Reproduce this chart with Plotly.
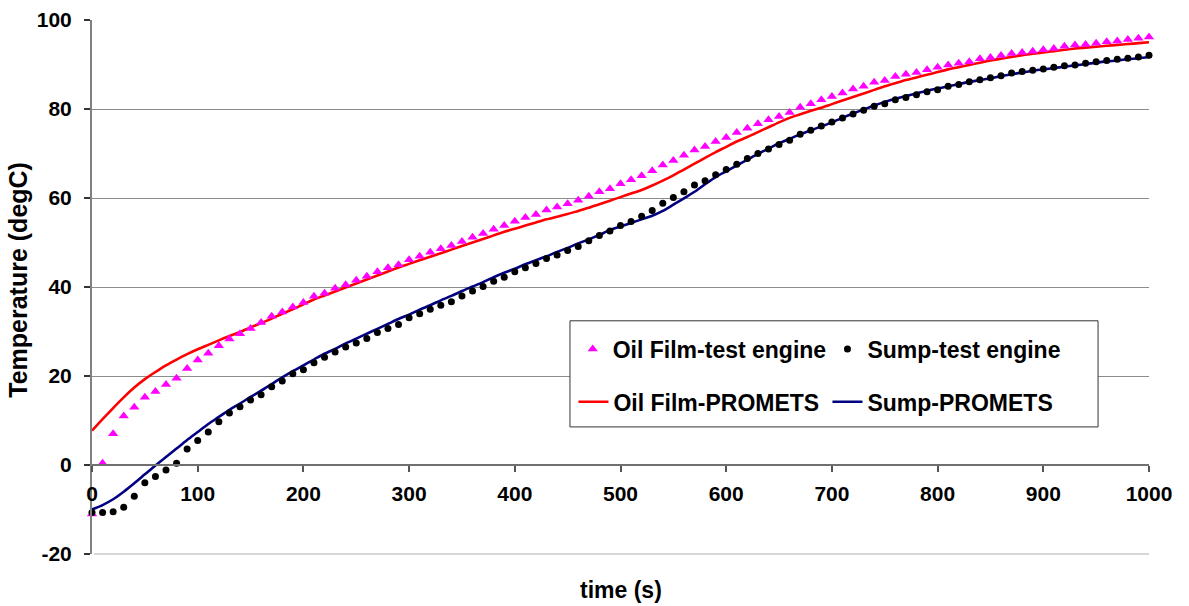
import plotly.graph_objects as go

# ---------------- data ----------------
time_s = list(range(0, 1001, 10))

oil_film_test = [
    -11.0, 0.4, 7.0, 11.0, 13.0, 15.2, 16.5, 18.1, 19.5, 21.7,
    23.6, 25.1, 26.8, 28.3, 29.5, 30.7, 32.0, 33.4, 34.4, 35.5,
    36.5, 37.9, 38.6, 39.7, 40.5, 41.5, 42.4, 43.4, 44.3, 45.0,
    46.1, 46.9, 47.8, 48.6, 49.3, 50.2, 51.2, 52.0, 53.0, 53.8,
    54.8, 55.6, 56.3, 57.3, 58.0, 58.7, 59.5, 60.4, 61.4, 62.1,
    63.2, 64.1, 65.0, 66.1, 67.4, 68.4, 69.6, 70.8, 71.6, 72.7,
    73.6, 74.7, 75.7, 76.7, 77.6, 78.3, 79.2, 80.4, 81.2, 82.1,
    82.8, 83.6, 84.5, 85.1, 86.0, 86.4, 87.3, 87.8, 88.2, 88.8,
    89.4, 89.9, 90.3, 90.6, 91.3, 91.6, 92.0, 92.5, 92.7, 93.0,
    93.3, 93.6, 94.1, 94.4, 94.5, 94.8, 95.1, 95.3, 95.6, 95.9,
    96.2,
]

sump_test = [
    -10.7, -10.7, -10.5, -9.5, -7.0, -4.0, -2.6, -1.1, 0.4, 3.6,
    5.5, 7.4, 9.7, 11.7, 13.1, 14.6, 15.8, 17.6, 18.9, 20.5,
    21.4, 23.0, 24.2, 25.4, 26.5, 27.4, 28.4, 29.8, 30.7, 31.6,
    33.1, 34.0, 35.0, 35.9, 36.7, 38.0, 39.1, 40.1, 41.3, 42.2,
    43.4, 44.3, 45.3, 46.4, 47.2, 48.2, 49.1, 50.4, 51.6, 52.6,
    53.8, 54.7, 55.9, 57.2, 58.8, 60.1, 61.4, 62.9, 63.9, 65.2,
    66.4, 67.6, 68.9, 70.0, 71.0, 72.0, 73.0, 74.3, 75.2, 76.2,
    77.1, 78.0, 78.9, 79.7, 80.6, 81.2, 82.1, 82.6, 83.2, 83.9,
    84.3, 85.1, 85.5, 86.1, 86.6, 87.0, 87.5, 88.1, 88.4, 88.7,
    89.0, 89.4, 89.7, 89.9, 90.3, 90.6, 90.9, 91.2, 91.4, 91.7,
    92.1,
]

oil_film_promets = [
    7.7, 10.3, 12.8, 15.2, 17.4, 19.3, 20.9, 22.4, 23.7, 24.9,
    26.0, 27.0, 28.0, 29.0, 29.9, 30.9, 31.9, 32.9, 34.0, 35.0,
    36.1, 37.2, 38.1, 39.0, 39.9, 40.8, 41.7, 42.6, 43.5, 44.4,
    45.2, 46.0, 46.8, 47.6, 48.4, 49.2, 50.0, 50.8, 51.6, 52.4,
    53.1, 53.8, 54.5, 55.2, 55.8, 56.4, 57.1, 57.8, 58.6, 59.4,
    60.2, 61.0, 61.8, 62.8, 63.9, 65.1, 66.4, 67.7, 69.0, 70.3,
    71.5, 72.7, 73.7, 74.8, 75.9, 77.0, 78.0, 78.8, 79.6, 80.3,
    81.1, 81.9, 82.7, 83.5, 84.3, 85.1, 85.8, 86.5, 87.1, 87.7,
    88.3, 88.9, 89.4, 89.9, 90.4, 90.9, 91.3, 91.7, 92.1, 92.4,
    92.7, 93.0, 93.3, 93.6, 93.8, 94.0, 94.2, 94.4, 94.6, 94.8,
    95.0,
]

sump_promets = [
    -10.0, -9.0, -7.7, -6.0, -4.1, -2.1, -0.1, 1.8, 3.7, 5.6,
    7.4, 9.2, 10.8, 12.4, 13.8, 15.3, 16.7, 18.2, 19.7, 21.1,
    22.4, 23.7, 25.0, 26.1, 27.3, 28.4, 29.5, 30.6, 31.7, 32.8,
    33.8, 34.9, 35.9, 37.0, 38.0, 39.1, 40.1, 41.1, 42.2, 43.2,
    44.1, 45.1, 46.0, 46.9, 47.9, 48.8, 49.8, 50.7, 51.7, 52.8,
    53.6, 54.4, 55.2, 56.0, 57.1, 58.5, 59.9, 61.4, 63.1, 64.7,
    66.0, 67.3, 68.6, 69.9, 71.1, 72.3, 73.3, 74.3, 75.2, 76.1,
    77.0, 78.0, 79.0, 79.9, 80.8, 81.6, 82.3, 82.9, 83.5, 84.1,
    84.6, 85.1, 85.6, 86.1, 86.5, 86.9, 87.4, 87.8, 88.2, 88.6,
    88.9, 89.2, 89.5, 89.8, 90.1, 90.4, 90.7, 90.9, 91.2, 91.4,
    91.7,
]

x_ticks = [0, 100, 200, 300, 400, 500, 600, 700, 800, 900, 1000]
y_ticks = [-20, 0, 20, 40, 60, 80, 100]

x_title = "time (s)"
y_title = "Temperature (degC)"

# ---------------- figure ----------------
FONT = "Liberation Sans, Arial, Helvetica, sans-serif"

fig = go.Figure()

fig.add_trace(go.Scatter(
    x=time_s, y=oil_film_promets, mode="lines", name="Oil Film-PROMETS",
    line=dict(color="#FF0000", width=2.6, shape="spline", smoothing=0.8),
    legend="legend3", cliponaxis=False,
))
fig.add_trace(go.Scatter(
    x=time_s, y=sump_promets, mode="lines", name="Sump-PROMETS",
    line=dict(color="#000080", width=2.6, shape="spline", smoothing=0.8),
    legend="legend4", cliponaxis=False,
))
fig.add_trace(go.Scatter(
    x=time_s, y=oil_film_test, mode="markers", name="Oil Film-test engine",
    marker=dict(symbol="triangle-up", color="#FF00FF", size=9), legend="legend",
    cliponaxis=False,
))
fig.add_trace(go.Scatter(
    x=time_s, y=sump_test, mode="markers", name="Sump-test engine",
    marker=dict(symbol="circle", color="#000000", size=7), legend="legend2",
    cliponaxis=False,
))

legend_common = dict(
    orientation="h", bgcolor="rgba(0,0,0,0)", borderwidth=0,
    font=dict(family=FONT, size=23, color="#000000", weight="bold"),
    xanchor="left", yanchor="middle",
)

fig.update_layout(
    width=1189, height=606,
    margin=dict(l=92, r=40, t=20, b=52, autoexpand=False),
    paper_bgcolor="white", plot_bgcolor="white",
    font=dict(family=FONT, color="#000000"),
    showlegend=True,
    legend=dict(**legend_common, x=0.4548, y=0.384),
    legend2=dict(**legend_common, x=0.6958, y=0.384),
    legend3=dict(**legend_common, x=0.4555, y=0.285),
    legend4=dict(**legend_common, x=0.6958, y=0.285),
    xaxis=dict(
        range=[0, 1000], tickvals=x_ticks, ticktext=[str(v) for v in x_ticks],
        anchor="free", position=1 / 6, automargin=False,
        showline=True, linecolor="#707070", linewidth=1.5,
        ticks="outside", ticklen=6, tickcolor="#555555", tickwidth=1.5,
        showgrid=False, zeroline=False,
        tickfont=dict(family=FONT, size=21, color="#000000", weight="bold"),
        ticklabelstandoff=4,
    ),
    yaxis=dict(
        range=[-20, 100], tickvals=y_ticks, ticktext=[str(v) for v in y_ticks],
        automargin=False,
        showline=True, linecolor="#808080", linewidth=2,
        ticks="outside", ticklen=6, tickcolor="#333333", tickwidth=1.5,
        showgrid=True, gridcolor="#8c8c8c", gridwidth=1, zeroline=False,
        tickfont=dict(family=FONT, size=21, color="#000000", weight="bold"),
        ticklabelstandoff=8,
    ),
    shapes=[
        dict(type="line", xref="paper", yref="paper", x0=0.002, x1=1, y0=0, y1=0,
             line=dict(color="#c8c8c8", width=1.5), layer="above"),
        dict(type="rect", xref="paper", yref="paper",
             x0=0.4522, x1=0.9518, y0=0.238, y1=0.4367,
             line=dict(color="#333333", width=1), fillcolor="white", layer="above"),
    ],
    annotations=[
        dict(text=x_title, xref="paper", yref="paper", x=0.5, y=-0.0675,
             xanchor="center", yanchor="middle", showarrow=False,
             font=dict(family=FONT, size=23, color="#000000", weight="bold")),
        dict(text=y_title, xref="paper", yref="paper", x=-0.07, y=0.5136,
             xanchor="center", yanchor="middle", showarrow=False, textangle=-90,
             font=dict(family=FONT, size=25, color="#000000", weight="bold")),
    ],
)

fig.write_html(
    "out.html",
    config={"displayModeBar": False},
    post_script="document.body.style.margin='0px';document.body.style.padding='0px';",
)
